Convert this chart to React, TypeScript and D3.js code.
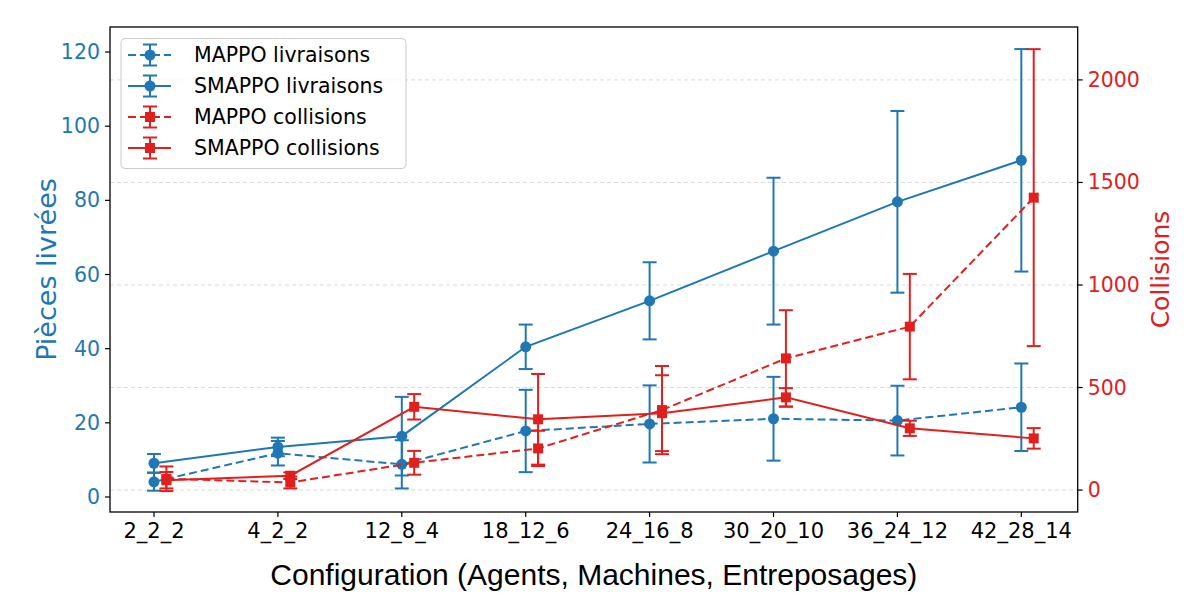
import * as d3 from 'd3';
import {useEffect} from 'react';

const configs = ['2_2_2', '4_2_2', '12_8_4', '18_12_6', '24_16_8', '30_20_10', '36_24_12', '42_28_14'];

// pièces livrées (axe gauche)
const mappoLiv = [4.1, 11.8, 8.8, 17.8, 19.7, 21.1, 20.6, 24.2];
const mappoLivErr = [2.4, 3.3, 6.5, 11.1, 10.4, 11.3, 9.4, 11.8];
const smappoLiv = [9.1, 13.5, 16.4, 40.5, 52.9, 66.3, 79.6, 90.8];
const smappoLivErr = [2.5, 2.5, 10.6, 6.0, 10.4, 19.8, 24.5, 30.0];

// collisions (axe droit)
const mappoCol = [55, 37, 133, 203, 390, 642, 797, 1426];
const mappoColErr = [60, 29, 58, 86, 215, 235, 257, 724];
const smappoCol = [48, 70, 406, 345, 375, 452, 301, 252];
const smappoColErr = [40, 16, 62, 221, 185, 45, 37, 50];

const leftTicks = [0, 20, 40, 60, 80, 100, 120];
const rightTicks = [0, 500, 1000, 1500, 2000];

const BLUE = '#1f77b4';
const RED = '#e0201f';
const FONT = 'DejaVu Sans, sans-serif';

const W = 1200;
const H = 600;
const plot = {left: 110, right: 1077.7, top: 27, bottom: 512};

const x = d3.scaleLinear().domain([-0.355, 7.455]).range([plot.left, plot.right]);
const yL = d3.scaleLinear().domain([-4.05, 126.75]).range([plot.bottom, plot.top]);
const yR = d3.scaleLinear().domain([-107, 2258]).range([plot.bottom, plot.top]);

type Series = {
	label: string;
	values: number[];
	errs: number[];
	color: string;
	dashed: boolean;
	marker: 'circle' | 'square';
	y: d3.ScaleLinear<number, number>;
	shift: number;
};

const series: Series[] = [
	{label: 'MAPPO livraisons', values: mappoLiv, errs: mappoLivErr, color: BLUE, dashed: true, marker: 'circle', y: yL, shift: 0},
	{label: 'SMAPPO livraisons', values: smappoLiv, errs: smappoLivErr, color: BLUE, dashed: false, marker: 'circle', y: yL, shift: 0},
	{label: 'MAPPO collisions', values: mappoCol, errs: mappoColErr, color: RED, dashed: true, marker: 'square', y: yR, shift: 0.1},
	{label: 'SMAPPO collisions', values: smappoCol, errs: smappoColErr, color: RED, dashed: false, marker: 'square', y: yR, shift: 0.1},
];

const Marker = ({cx, cy, kind, color}: {cx: number; cy: number; kind: string; color: string}) =>
	kind === 'circle' ? (
		<circle cx={cx} cy={cy} r={5.5} fill={color} />
	) : (
		<rect x={cx - 5} y={cy - 5} width={10} height={10} fill={color} />
	);

const ErrBar = ({cx, y0, y1, color}: {cx: number; y0: number; y1: number; color: string}) => (
	<g stroke={color} strokeWidth={2}>
		<line x1={cx} x2={cx} y1={y0} y2={y1} />
		<line x1={cx - 7} x2={cx + 7} y1={y0} y2={y0} />
		<line x1={cx - 7} x2={cx + 7} y1={y1} y2={y1} />
	</g>
);

export default function App() {
	useEffect(() => {
		document.body.style.margin = '0';
	}, []);

	const legendRows = [55, 86, 117, 148];

	return (
		<svg width={W} height={H} style={{display: 'block', background: '#fff'}} fontFamily={FONT}>
			{/* grille (axe droit) */}
			{rightTicks.map((t) => (
				<line
					key={'g' + t}
					x1={plot.left}
					x2={plot.right}
					y1={yR(t)}
					y2={yR(t)}
					stroke="#d9d9d9"
					strokeWidth={1}
					strokeDasharray="4,3"
				/>
			))}

			{series.map((s) => {
				const line = d3
					.line<number>()
					.x((_, i) => x(i + s.shift))
					.y((d) => s.y(d));
				return (
					<g key={s.label}>
						{s.values.map((v, i) => (
							<ErrBar key={i} cx={x(i + s.shift)} y0={s.y(v + s.errs[i])} y1={s.y(v - s.errs[i])} color={s.color} />
						))}
						<path
							d={line(s.values) ?? ''}
							fill="none"
							stroke={s.color}
							strokeWidth={2}
							strokeDasharray={s.dashed ? '8,4' : undefined}
						/>
						{s.values.map((v, i) => (
							<Marker key={i} cx={x(i + s.shift)} cy={s.y(v)} kind={s.marker} color={s.color} />
						))}
					</g>
				);
			})}

			{/* cadre */}
			<rect
				x={plot.left}
				y={plot.top}
				width={plot.right - plot.left}
				height={plot.bottom - plot.top}
				fill="none"
				stroke="#000"
				strokeWidth={1.3}
			/>

			{/* axe gauche */}
			{leftTicks.map((t) => (
				<g key={'l' + t}>
					<line x1={plot.left - 5} x2={plot.left} y1={yL(t)} y2={yL(t)} stroke="#000" strokeWidth={1.2} />
					<text x={plot.left - 10} y={yL(t)} textAnchor="end" dominantBaseline="central" fontSize={20.5} fill={BLUE}>
						{t}
					</text>
				</g>
			))}

			{/* axe droit */}
			{rightTicks.map((t) => (
				<g key={'r' + t}>
					<line x1={plot.right} x2={plot.right + 5} y1={yR(t)} y2={yR(t)} stroke="#000" strokeWidth={1.2} />
					<text x={plot.right + 10} y={yR(t)} dominantBaseline="central" fontSize={20.5} fill={RED}>
						{t}
					</text>
				</g>
			))}

			{/* axe x */}
			{configs.map((c, i) => (
				<g key={c}>
					<line x1={x(i)} x2={x(i)} y1={plot.bottom} y2={plot.bottom + 5} stroke="#000" strokeWidth={1.2} />
					<text x={x(i)} y={plot.bottom + 19} textAnchor="middle" dominantBaseline="central" fontSize={21} fill="#000">
						{c}
					</text>
				</g>
			))}

			<text
				transform={`translate(46,${(plot.top + plot.bottom) / 2}) rotate(-90)`}
				textAnchor="middle"
				dominantBaseline="central"
				fontSize={27}
				fill={BLUE}
			>
				Pièces livrées
			</text>
			<text
				transform={`translate(1160,${(plot.top + plot.bottom) / 2}) rotate(-90)`}
				textAnchor="middle"
				dominantBaseline="central"
				fontSize={25}
				fill={RED}
			>
				Collisions
			</text>
			<text x={(plot.left + plot.right) / 2} y={585} textAnchor="middle" fontSize={30} fontFamily="Liberation Sans, Arial, sans-serif" fill="#000">
				Configuration (Agents, Machines, Entreposages)
			</text>

			{/* légende */}
			<rect x={121} y={38.5} width={285} height={130} rx={4} fill="#fff" fillOpacity={0.8} stroke="#cccccc" strokeWidth={1} />
			{series.map((s, k) => {
				const cy = legendRows[k];
				return (
					<g key={'lg' + s.label}>
						<line
							x1={128}
							x2={171}
							y1={cy}
							y2={cy}
							stroke={s.color}
							strokeWidth={2}
							strokeDasharray={s.dashed ? '8,4' : undefined}
						/>
						<ErrBar cx={150} y0={cy - 10.5} y1={cy + 10.5} color={s.color} />
						<Marker cx={150} cy={cy} kind={s.marker} color={s.color} />
						<text x={194} y={cy} dominantBaseline="central" fontSize={20.5} fill="#000">
							{s.label}
						</text>
					</g>
				);
			})}
		</svg>
	);
}
